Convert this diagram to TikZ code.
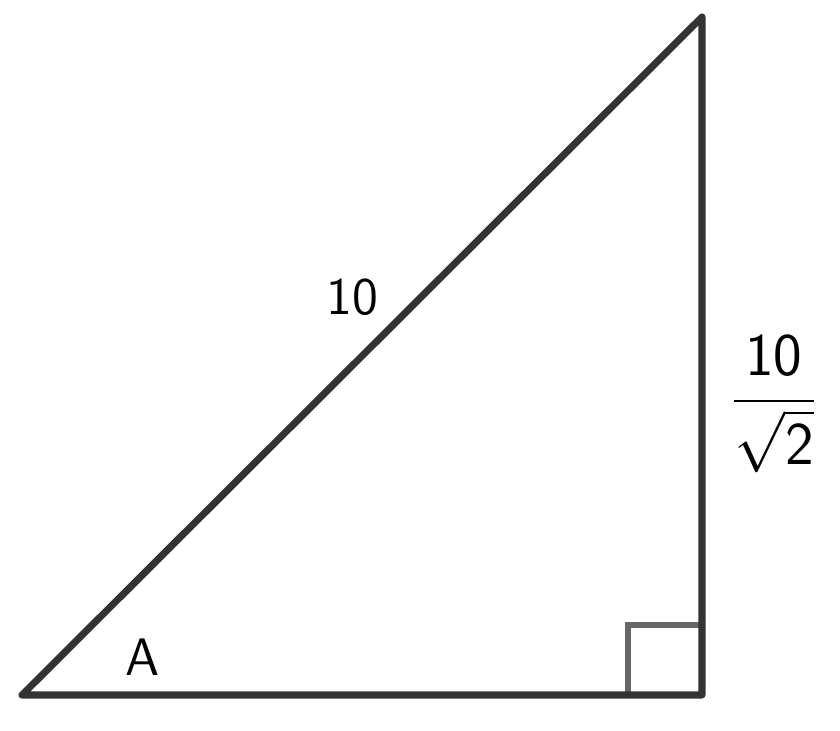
\documentclass[tikz,border=0pt]{standalone}
\usepackage{amsmath}
\tikzset{ side/.style={draw=black!80,line width=2pt,line cap=round,line join=round},
  lbl/.style={font=\fontsize{15}{18}\selectfont\sffamily,inner sep=0pt}}

\begin{document}
\begin{tikzpicture}
  \useasboundingbox (0,0) rectangle (8.4,7.31);
  \coordinate (a) at (0.22,0.36);
  \coordinate (b) at (7.02,0.36);
  \coordinate (c) at (7.02,7.14);
   \draw [black!60,line width=1.5pt] (6.28,0.36) |- (7.02,1.06);
   \draw [side] (a) -- (b) -- (c) -- cycle;

   \node[lbl] (hyp) at (3.52,4.34) {10};
   \node[lbl] (angA) at (1.43,0.74) {A};
   \node[lbl,font=\fontsize{19}{23}\selectfont] (opp) at (7.74,3.27) {$\dfrac{\mathsf{10}}{\sqrt{\mathsf{2}}}$};
\end{tikzpicture}
\end{document}
